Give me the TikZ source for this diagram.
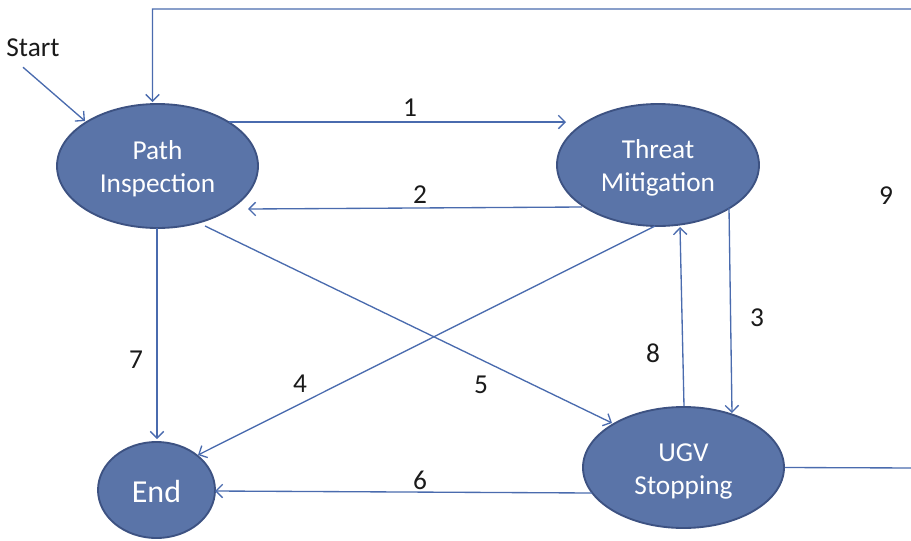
\documentclass[tikz,border=0pt]{standalone}
\usepackage{fontspec}
\setmainfont{Carlito}
\usetikzlibrary{shapes.geometric,arrows.meta,calc}

\definecolor{statefill}{HTML}{5A74A8}
\definecolor{stateline}{HTML}{3D5282}
\definecolor{wire}{HTML}{4A6BAE}
\definecolor{labeltext}{HTML}{1A1A1A}

\tikzset{
  state/.style={ellipse, draw=stateline, line width=1.4pt, fill=statefill,
    inner sep=0pt},
  statetext/.style={text=white, align=center, inner sep=0pt,
    font=\fontsize{20.5}{24.75}\selectfont, yshift=-2.25pt},
  wirearrow/.style={draw=wire, line width=1pt,
    -{Straight Barb[length=5pt,width=10pt,line width=1pt]}},
  numlabel/.style={text=labeltext, inner sep=0pt,
    font=\fontsize{20.5}{24.75}\selectfont}
}

\begin{document}
\begin{tikzpicture}[x=0.75pt,y=-0.75pt]
  \useasboundingbox (0,0) rectangle (911,540);
  \clip (0,0) rectangle (911,540);

  % states
  \node[state, minimum width=150.75pt, minimum height=93pt,
        label={[statetext]center:Path\\Inspection}] (pi) at (157.5,166) {};
  \node[state, minimum width=151.5pt, minimum height=91.5pt,
        label={[statetext]center:Threat\\Mitigation}] (tm) at (658,165) {};
  \node[state, minimum width=150.75pt, minimum height=90.75pt,
        label={[statetext, yshift=-0.75pt]center:UGV\\Stopping}] (ugv) at (683.5,467.5) {};
  \node[state, minimum width=87.75pt, minimum height=72pt,
        label={[statetext, yshift=1.5pt, font=\fontsize{24}{28}\selectfont]center:End}] (end) at (156.5,490) {};

  % start marker
  \node[numlabel] (start) at (33,48) {Start};
  \draw[wirearrow] ($(start.south)+(-10,10)$) -- ($(pi)+(-72.5,-45)$);

  % transitions
  \draw[wirearrow] ($(pi)+(71.5,-44)$) -- ($(tm)+(-92,-43)$);
  \draw[wirearrow] ($(tm)+(-76,42)$) -- ($(pi)+(90.5,43)$);
  \draw[wirearrow] ($(tm)+(71,43)$) -- ($(ugv)+(48.5,-54.5)$);
  \draw[wirearrow] ($(ugv)+(0.5,-61.5)$) -- ($(tm)+(22,62)$);
  \draw[wirearrow] ($(tm)+(-3,61)$) -- ($(end)+(41.5,-35)$);
  \draw[wirearrow] ($(pi)+(47.5,60)$) -- ($(ugv)+(-71.5,-44.5)$);
  \draw[wirearrow] ($(ugv)+(-91.5,25.5)$) -- ($(end)+(58.5,1)$);
  \draw[wirearrow] ($(pi)+(-0.5,62)$) -- ($(end)+(0.5,-51)$);

  % return loop from UGV Stopping back to Path Inspection
  \coordinate (loopbr) at (916,468);
  \coordinate (looptr) at (916,9);
  \coordinate (looptl) at (152.5,9);
  \draw[wirearrow] (ugv.east) -- (loopbr) -- (looptr) -- (looptl) -- ($(pi)+(-5,-64)$);

  % transition numbers
  \node[numlabel] (n1) at (410,108) {1};
  \node[numlabel] (n2) at (420,195) {2};
  \node[numlabel] (n3) at (757,318) {3};
  \node[numlabel] (n4) at (300,384) {4};
  \node[numlabel] (n5) at (481,385) {5};
  \node[numlabel] (n6) at (420,480) {6};
  \node[numlabel] (n7) at (136,360) {7};
  \node[numlabel] (n8) at (653,353) {8};
  \node[numlabel] (n9) at (886,196) {9};
\end{tikzpicture}
\end{document}
